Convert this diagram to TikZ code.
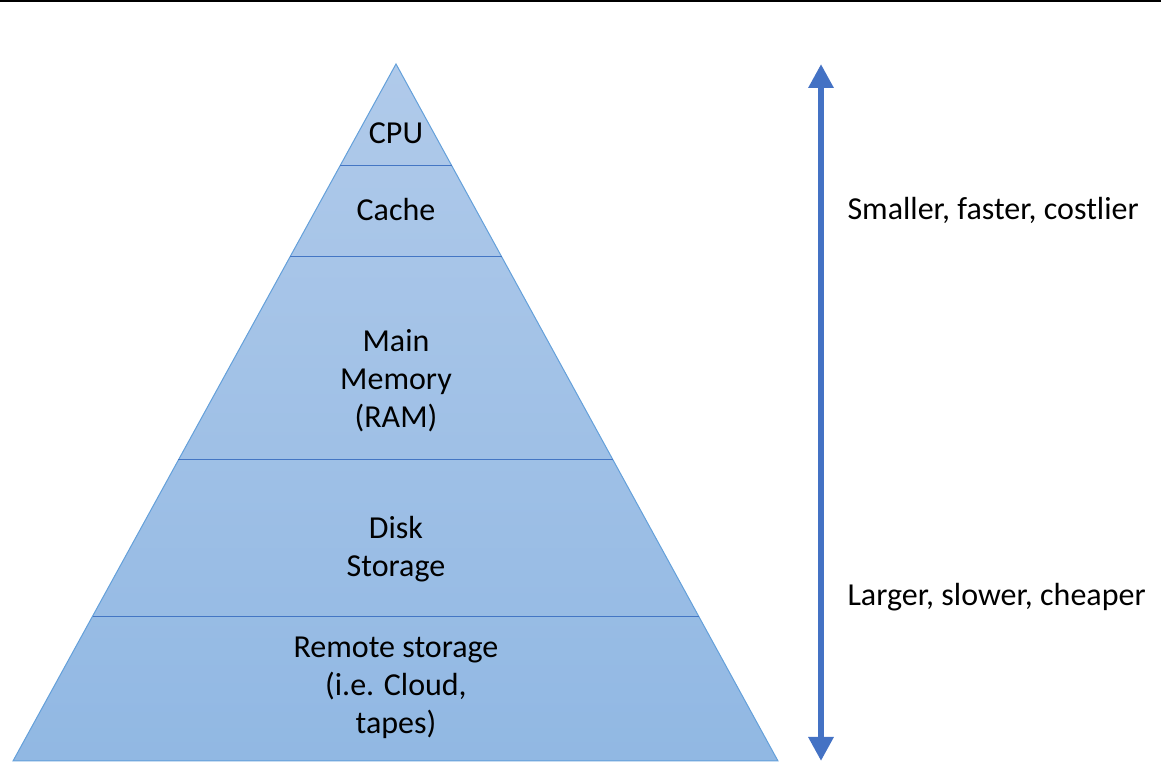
\documentclass[tikz,border=0pt]{standalone}
\usepackage{fontspec}
\setmainfont{Carlito}
\usepackage{xcolor}
\usetikzlibrary{arrows.meta,calc}
\definecolor{pyrtop}{RGB}{176,202,234}
\definecolor{pyrbot}{RGB}{145,184,227}
\definecolor{pyredge}{RGB}{100,160,218}
\definecolor{pyrline}{RGB}{68,118,196}
\definecolor{arrowblue}{RGB}{68,114,196}

\begin{document}
\begin{tikzpicture}[x=1pt,y=1pt,
  level/.style={font=\fontsize{32}{38}\selectfont,align=center},
  side/.style={font=\fontsize{32}{38}\selectfont,anchor=west}]

\useasboundingbox (0,0) rectangle (1161,773);
\draw[line width=2pt] (0,772) -- (1161,772);

% pyramid
\coordinate (apex) at (396,709);
\coordinate (bl) at (13,12);
\coordinate (br) at (778,12);
\shade[top color=pyrtop,bottom color=pyrbot] (apex) -- (bl) -- (br) -- cycle;
\draw[pyredge,line width=1pt] (apex) -- (bl) -- (br) -- cycle;

% level lines
\foreach \t in {0.1463,0.2769,0.5681,0.7920}{
  \draw[pyrline,line width=1pt] ($(apex)!\t!(bl)$) -- ($(apex)!\t!(br)$);
}

\node[level] (cpu) at (396,640) {CPU};
\node[level] (cache) at (396,563) {Cache};
\node[level] (ram) at (396,392) {Main\\Memory\\(RAM)};
\node[level] (disk) at (396,224) {Disk\\Storage};
\node[level] (remote) at (396,85) {Remote storage\\(i.e. Cloud,\\tapes)};

% arrow
\coordinate (top) at (821,709);
\coordinate (bot) at (821,12);
\draw[arrowblue,line width=6pt,
  {Triangle[width=24pt,length=24pt]}-{Triangle[width=24pt,length=24pt]}]
  (bot) -- (top);

\node[side] (small) at (844,563) {Smaller, faster, costlier};
\node[side] (large) at (844,176) {Larger, slower, cheaper};

\end{tikzpicture}
\end{document}
